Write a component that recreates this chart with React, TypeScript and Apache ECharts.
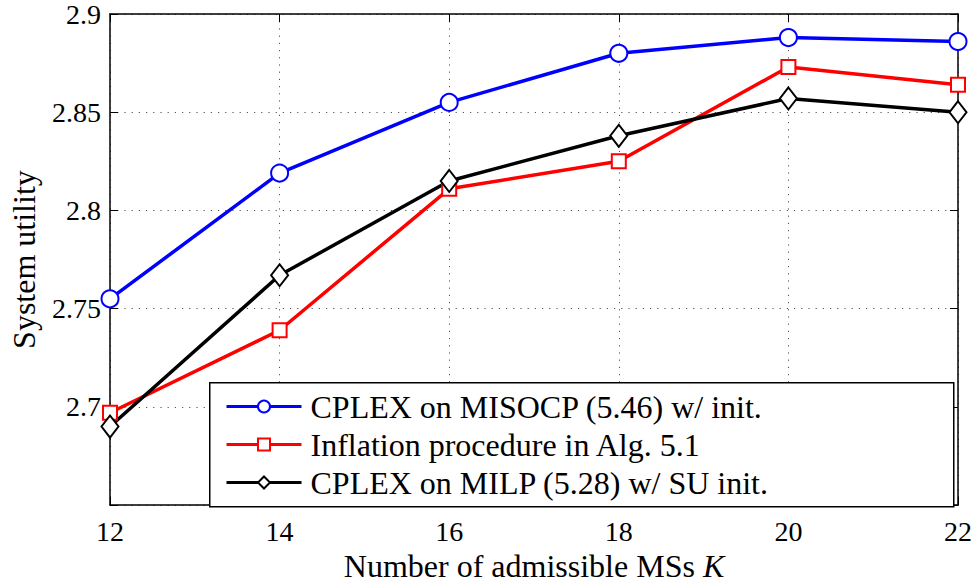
import React, { useEffect, useRef } from "react";
import * as echarts from "echarts";

const K = [12, 14, 16, 18, 20, 22];
const misocp = [2.755, 2.819, 2.855, 2.88, 2.888, 2.886];
const inflation = [2.697, 2.739, 2.811, 2.825, 2.873, 2.864];
const milp = [2.69, 2.767, 2.815, 2.838, 2.857, 2.85];
const seriesNames = [
  "CPLEX on MISOCP (5.46) w/ init.",
  "Inflation procedure in Alg. 5.1",
  "CPLEX on MILP (5.28) w/ SU init.",
];
const xTitle = "Number of admissible MSs ";
const xTitleVar = "K";
const yTitle = "System utility";

const FONT = "Liberation Serif";

export default function App() {
  const ref = useRef<HTMLDivElement>(null);
  useEffect(() => {
    const chart = echarts.init(ref.current!, null, { renderer: "svg" });
    const grid = { left: 109, right: 15.5, top: 11.5, bottom: 71 };
    const gridLine = { show: true, lineStyle: { type: [1.2, 6] as any, color: "#555", width: 1 } };
    const axisLine = { show: true, lineStyle: { color: "#000", width: 1.5 } };
    const tick = { show: true, inside: true, length: 8, lineStyle: { color: "#000", width: 1 } };
    const pair = (a: number[]) => K.map((k, i) => [k, a[i]]);
    const lineSeries = (name: string, data: number[], color: string, symbol: string, size: any) => ({
      type: "line",
      name,
      data: pair(data),
      symbol,
      symbolSize: size,
      showAllSymbol: true,
      lineStyle: { color, width: 3.5 },
      itemStyle: { color, borderColor: color, borderWidth: 3.5 },
      emphasis: { disabled: true },
      z: 2,
    });
    const labelStyle = { color: "#000", fontSize: 28, fontFamily: FONT };
    chart.setOption({
      animation: false,
      textStyle: { fontFamily: FONT },
      grid,
      xAxis: [
        {
          type: "value",
          min: 12,
          max: 22,
          interval: 2,
          position: "bottom",
          axisLine,
          axisTick: tick,
          splitLine: gridLine,
          axisLabel: { ...labelStyle, margin: 12 },
          name: xTitle + "{i|" + xTitleVar + "}",
          nameLocation: "middle",
          nameGap: 37,
          nameTextStyle: {
            color: "#000",
            fontSize: 32,
            fontFamily: FONT,
            rich: { i: { fontStyle: "italic", fontSize: 32, fontFamily: FONT, color: "#000" } },
          },
        },
        {
          type: "value",
          min: 12,
          max: 22,
          interval: 2,
          position: "top",
          axisLine,
          axisTick: tick,
          splitLine: { show: false },
          axisLabel: { show: false },
        },
      ],
      yAxis: [
        {
          type: "value",
          min: 2.65,
          max: 2.9,
          interval: 0.05,
          position: "left",
          axisLine,
          axisTick: tick,
          splitLine: gridLine,
          axisLabel: {
            ...labelStyle,
            margin: 9,
            formatter: (v: number) => (v < 2.66 ? "" : String(+v.toFixed(2))),
          },
          name: yTitle,
          nameLocation: "middle",
          nameRotate: 90,
          nameGap: 70,
          nameTextStyle: { color: "#000", fontSize: 32, fontFamily: FONT },
        },
        {
          type: "value",
          min: 2.65,
          max: 2.9,
          interval: 0.05,
          position: "right",
          axisLine,
          axisTick: tick,
          splitLine: { show: false },
          axisLabel: { show: false },
        },
      ],
      legend: {
        orient: "vertical",
        left: 225,
        top: 388,
        padding: 0,
        itemWidth: 75,
        itemHeight: 15,
        itemGap: 1,
        selectedMode: false,
        z: 6,
        lineStyle: { width: 3 },
        itemStyle: { borderWidth: 3 },
        textStyle: { color: "#000", fontSize: 32, fontFamily: FONT, lineHeight: 37, padding: [0, 0, 0, 4] },
        data: seriesNames,
      },
      graphic: [
        {
          type: "rect",
          left: 209,
          top: 382,
          z: 5,
          shape: { width: 744, height: 124 },
          style: { fill: "#fff", stroke: "#000", lineWidth: 1.5 },
        },
      ],
      series: [
        lineSeries(seriesNames[0], misocp, "#0000ff", "emptyCircle", 17),
        lineSeries(seriesNames[1], inflation, "#ff0000", "emptyRect", 14),
        lineSeries(seriesNames[2], milp, "#000000", "emptyDiamond", [17, 22]),
      ],
    });
    return () => chart.dispose();
  }, []);
  return (
    <div
      ref={ref}
      style={{ position: "absolute", left: 0, top: 0, width: 975, height: 587, background: "#fff" }}
    />
  );
}
